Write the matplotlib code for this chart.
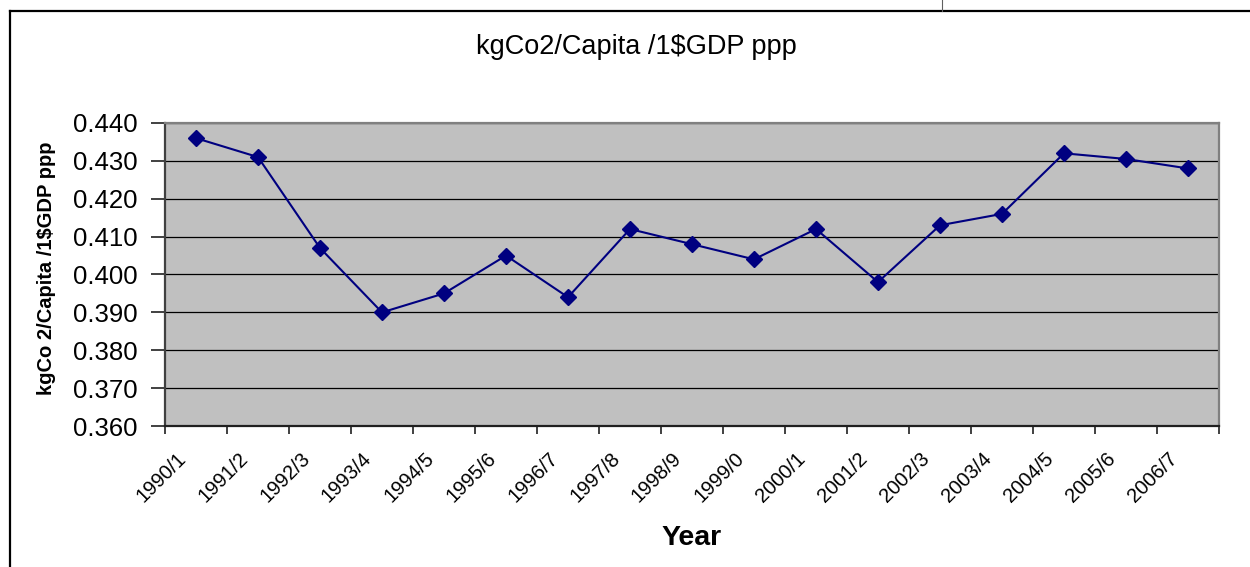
import numpy as np
import matplotlib.pyplot as plt
import matplotlib.transforms as mtransforms
from matplotlib.lines import Line2D

plt.rcParams['font.family'] = ['Liberation Sans', 'DejaVu Sans']

years = ['1990/1', '1991/2', '1992/3', '1993/4', '1994/5', '1995/6', '1996/7',
         '1997/8', '1998/9', '1999/0', '2000/1', '2001/2', '2002/3', '2003/4',
         '2004/5', '2005/6', '2006/7']
co2_per_gdp = [0.436, 0.431, 0.407, 0.390, 0.395, 0.405, 0.394, 0.412, 0.408,
               0.404, 0.412, 0.398, 0.413, 0.416, 0.432, 0.4305, 0.428]
yticks = [0.360, 0.370, 0.380, 0.390, 0.400, 0.410, 0.420, 0.430, 0.440]

W, H = 1250, 567
fig = plt.figure(figsize=(W / 100, H / 100), dpi=100)

# outer chart frame (left + top only, rest is cut off)
fig.add_artist(Line2D([10 / W, 10 / W], [0, 1 - 11 / H], color='black', lw=1.6))
fig.add_artist(Line2D([10 / W, 1], [1 - 11 / H, 1 - 11 / H], color='black', lw=1.6))
fig.add_artist(Line2D([942 / W, 942 / W], [1 - 11 / H, 1], color='#606060', lw=0.8))

ax = fig.add_axes([165 / W, 1 - 426 / H, (1219 - 165) / W, (426 - 123) / H])
ax.set_facecolor('#c0c0c0')

x = np.arange(len(years))
ax.plot(x, co2_per_gdp, color='#000080', lw=1.5, marker='D', markersize=8.5,
        markeredgecolor='#000080', markerfacecolor='#000080', zorder=3)

ax.set_xlim(-0.5, len(years) - 0.5)
ax.set_ylim(0.360, 0.440)
ax.set_yticks(yticks)
ax.set_yticklabels(['%.3f' % v for v in yticks], fontsize=18.5)
ax.yaxis.grid(True, color='black', lw=0.9)
ax.set_axisbelow(True)

ax.set_xticks(x)
ax.set_xticklabels(years, fontsize=14.5, rotation=45, ha='right', va='top',
                   rotation_mode='anchor')
ax.set_xticks(np.arange(len(years) + 1) - 0.5, minor=True)
ax.tick_params(axis='x', which='major', length=0, pad=0)
ax.tick_params(axis='x', which='minor', length=6, width=1.2, color='#202020')
ax.tick_params(axis='y', length=10, width=1.2, color='#202020', pad=10)

offset = mtransforms.ScaledTranslation(-20 / 100, -23 / 100, fig.dpi_scale_trans)
for lab in ax.get_xticklabels():
    lab.set_transform(lab.get_transform() + offset)

for side in ['top', 'right']:
    ax.spines[side].set_color('#808080')
    ax.spines[side].set_linewidth(1.6)
ax.spines['left'].set_color('#404040')
ax.spines['left'].set_linewidth(1.6)
ax.spines['bottom'].set_color('#202020')
ax.spines['bottom'].set_linewidth(1.6)

fig.text(636 / W, 1 - 47 / H, 'kgCo2/Capita /1$GDP ppp', fontsize=19.5,
         ha='center', va='center')
fig.text(47 / W, 1 - 268 / H, 'kgCo 2/Capita /1$GDP ppp', fontsize=14.5,
         fontweight='bold', rotation=90, ha='center', va='center')
fig.text(692 / W, 1 - 538 / H, 'Year', fontsize=20.5, fontweight='bold',
         ha='center', va='center')

fig.savefig('out.png', dpi=100)
